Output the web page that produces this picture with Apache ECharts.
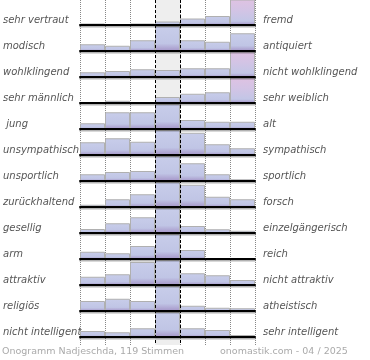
<!DOCTYPE html>
<html><head><meta charset="utf-8">
<script src="https://cdn.jsdelivr.net/npm/echarts@6/dist/echarts.min.js"></script>
<style>html,body{margin:0;padding:0;background:#fff}#c{width:370px;height:360px}</style>
</head><body><div id="c"></div>
<script>
// scale categories (7 steps)
const steps = ['1','2','3','4','5','6','7'];
const leftLabels = ['sehr vertraut','modisch','wohlklingend','sehr männlich',' jung','unsympathisch','unsportlich','zurückhaltend','gesellig','arm','attraktiv','religiös','nicht intelligent'];
const rightLabels = ['fremd','antiquiert','nicht wohlklingend','sehr weiblich','alt','sympathisch','sportlich','forsch','einzelgängerisch','reich','nicht attraktiv','atheistisch','sehr intelligent'];
// relative heights (100 = full row height; >100 = beyond scale)
const r1  = [6, 1, 6, 14, 26, 36, 130];
const r2  = [27, 21, 43, 100, 43, 37, 71];
const r3  = [19, 24, 31, 28, 35, 35, 130];
const r4  = [0, 9, 1, 24, 37, 43, 130];
const r5  = [23, 67, 67, 100, 36, 29, 29];
const r6  = [51, 67, 53, 100, 89, 43, 27];
const r7  = [27, 36, 40, 100, 71, 27, 7];
const r8  = [9, 31, 51, 100, 89, 41, 31];
const r9  = [16, 39, 63, 100, 28, 15, 9];
const r10 = [29, 23, 52, 100, 36, 0, 0];
const r11 = [33, 43, 92, 100, 47, 39, 20];
const r12 = [40, 49, 40, 100, 21, 13, 11];
const r13 = [24, 19, 35, 100, 35, 28, 8];
const rows = [r1,r2,r3,r4,r5,r6,r7,r8,r9,r10,r11,r12,r13];
const footerLeft = 'Onogramm Nadjeschda, 119 Stimmen';
const footerRight = 'onomastik.com - 04 / 2025';

const FONT = 'DejaVu Sans';
const PL = 80, PW = 175, ROWH = 26, BAR = 25, FIRST = 25;
const blue = new echarts.graphic.LinearGradient(0,0,0,1,[
  {offset:0,color:'#c8cdea'},{offset:0.7,color:'#c0c5e5'},{offset:1,color:'#a595c8'}]);
const pink = new echarts.graphic.LinearGradient(0,0,0,1,[
  {offset:0,color:'#dfc2e2'},{offset:0.45,color:'#d2c4e5'},{offset:0.85,color:'#c2c6e6'},{offset:1,color:'#a595c8'}]);

const grid = [], xAxis = [], yAxis = [], series = [];
// background dotted grid
grid.push({left:PL, width:PW, top:0, height:345});
xAxis.push({gridIndex:0, type:'value', min:0, max:7, interval:1, axisLine:{show:false}, axisTick:{show:false}, axisLabel:{show:false},
  splitLine:{show:true, lineStyle:{type:'dotted', color:'#888', width:1}}});
yAxis.push({gridIndex:0, type:'value', show:false, splitLine:{show:false}});
// middle band
grid.push({left:PL+3*PW/7, width:PW/7, top:0, height:345});
xAxis.push({gridIndex:1, type:'value', min:0, max:1, interval:1, axisLine:{show:false}, axisTick:{show:false}, axisLabel:{show:false},
  splitLine:{show:false}, splitArea:{show:true, areaStyle:{color:['#eeeeee']}}});
xAxis.push({gridIndex:1, type:'value', position:'top', z:10, min:0, max:1, interval:1, axisLine:{show:false}, axisTick:{show:false}, axisLabel:{show:false},
  splitLine:{show:true, lineStyle:{type:[3,2], color:'#000', width:1}}});
yAxis.push({gridIndex:1, type:'value', show:false, splitLine:{show:false}});
// labels grid
grid.push({left:PL, width:PW, top:FIRST-5-ROWH/2, height:ROWH*13});
xAxis.push({gridIndex:2, type:'value', show:false});
const lblStyle = {fontFamily:FONT, fontSize:10, fontStyle:'italic', color:'#555'};
yAxis.push({gridIndex:2, type:'category', inverse:true, data:leftLabels, axisLine:{show:false}, axisTick:{show:false},
  axisLabel:Object.assign({margin:PL+3, align:'left'}, lblStyle)});
yAxis.push({gridIndex:2, type:'category', position:'right', inverse:true, data:rightLabels, axisLine:{show:false}, axisTick:{show:false},
  axisLabel:Object.assign({margin:8, align:'left'}, lblStyle)});

rows.forEach((vals, i) => {
  const gi = grid.length;
  const base = FIRST + ROWH*i;
  grid.push({left:PL, width:PW, top:base-BAR, height:BAR});
  const xi = xAxis.length, yi = yAxis.length;
  xAxis.push({gridIndex:gi, type:'category', data:steps, z:5, axisTick:{show:false}, axisLabel:{show:false},
    axisLine:{show:true, lineStyle:{color:'#000', width:2, shadowColor:'rgba(0,0,0,0.3)', shadowOffsetY:1.5, shadowBlur:0}}});
  yAxis.push({gridIndex:gi, type:'value', min:0, max:100, show:false, splitLine:{show:false}});
  series.push({type:'bar', xAxisIndex:xi, yAxisIndex:yi, barWidth:'100%', clip:true, animation:false,
    data: vals.map(v => ({value:v, itemStyle:{color: v>100 ? pink : blue}})),
    itemStyle:{borderColor:'#b0b0b0', borderWidth:1}});
});

const chart = echarts.init(document.getElementById('c'), null, {renderer:'canvas'});
const footStyle = {fontFamily:FONT, fontSize:9.5, fontWeight:'normal', color:'#aaa'};
chart.setOption({
  animation:false,
  backgroundColor:'#fff',
  title:[
    {text:footerLeft, left:2, top:347, padding:0, textStyle:footStyle},
    {text:footerRight, left:220, top:347, padding:0, textStyle:footStyle}
  ],
  grid, xAxis, yAxis, series
});
</script></body></html>
